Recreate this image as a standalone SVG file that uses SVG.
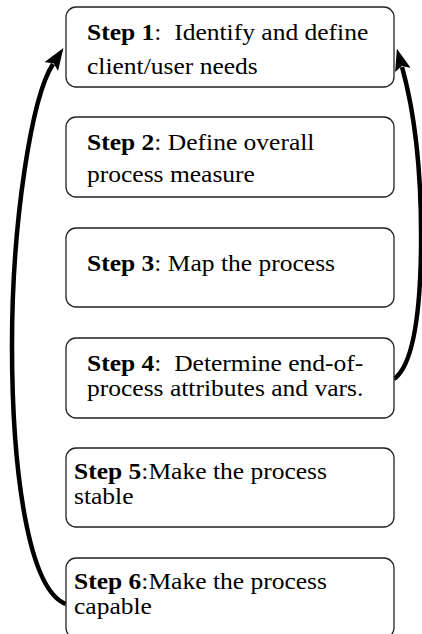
<svg xmlns="http://www.w3.org/2000/svg" width="422" height="634" viewBox="0 0 422 634">
<style>
.box{fill:#fff;stroke:#222;stroke-width:1.3}
.t{font-family:"Liberation Serif","Times New Roman",serif;font-size:23px;fill:#000;white-space:pre}
.b{font-weight:bold}
.conn{fill:none;stroke:#000;stroke-width:4.5}
</style>
<defs>
<marker id="ah" viewBox="0 0 22 16" refX="3" refY="8" markerWidth="22" markerHeight="16" orient="auto" markerUnits="userSpaceOnUse">
<path d="M0,0 L22,8 L0,16 L4,8 z" fill="#000"/>
</marker>
</defs>
<rect width="422" height="634" fill="#fff"/>
<g id="connectors">
<path class="conn" d="M66,604 C28,590 12,470 12,345 C12,220 32,96 53,64" marker-end="url(#ah)"/>
<path class="conn" d="M394,379 C412,366 420,320 421,250 C422,170 414,110 402,67" marker-end="url(#ah)"/>
</g>
<g id="step1">
<rect class="box" x="66" y="7" width="328" height="80" rx="10"/>
<text class="t" xml:space="preserve" transform="translate(87,40) scale(1.11,1)"><tspan class="b">Step 1</tspan>:  Identify and define</text>
<text class="t" transform="translate(87,74) scale(1.11,1)">client/user needs</text>
</g>
<g id="step2">
<rect class="box" x="66" y="117" width="328" height="80" rx="10"/>
<text class="t" transform="translate(87,150) scale(1.11,1)"><tspan class="b">Step 2</tspan>: Define overall</text>
<text class="t" transform="translate(87,182) scale(1.11,1)">process measure</text>
</g>
<g id="step3">
<rect class="box" x="66" y="228" width="328" height="79" rx="10"/>
<text class="t" transform="translate(87,271) scale(1.11,1)"><tspan class="b">Step 3</tspan>: Map the process</text>
</g>
<g id="step4">
<rect class="box" x="66" y="338" width="328" height="80" rx="10"/>
<text class="t" xml:space="preserve" transform="translate(87,371) scale(1.11,1)"><tspan class="b">Step 4</tspan>:  Determine end-of-</text>
<text class="t" transform="translate(87,396) scale(1.11,1)">process attributes and vars.</text>
</g>
<g id="step5">
<rect class="box" x="66" y="448" width="328" height="79" rx="10"/>
<text class="t" transform="translate(74,479) scale(1.11,1)"><tspan class="b">Step 5</tspan>:Make the process</text>
<text class="t" transform="translate(74,504) scale(1.11,1)">stable</text>
</g>
<g id="step6">
<rect class="box" x="66" y="558" width="328" height="80" rx="10"/>
<text class="t" transform="translate(74,589) scale(1.11,1)"><tspan class="b">Step 6</tspan>:Make the process</text>
<text class="t" transform="translate(74,614) scale(1.11,1)">capable</text>
</g>
</svg>
